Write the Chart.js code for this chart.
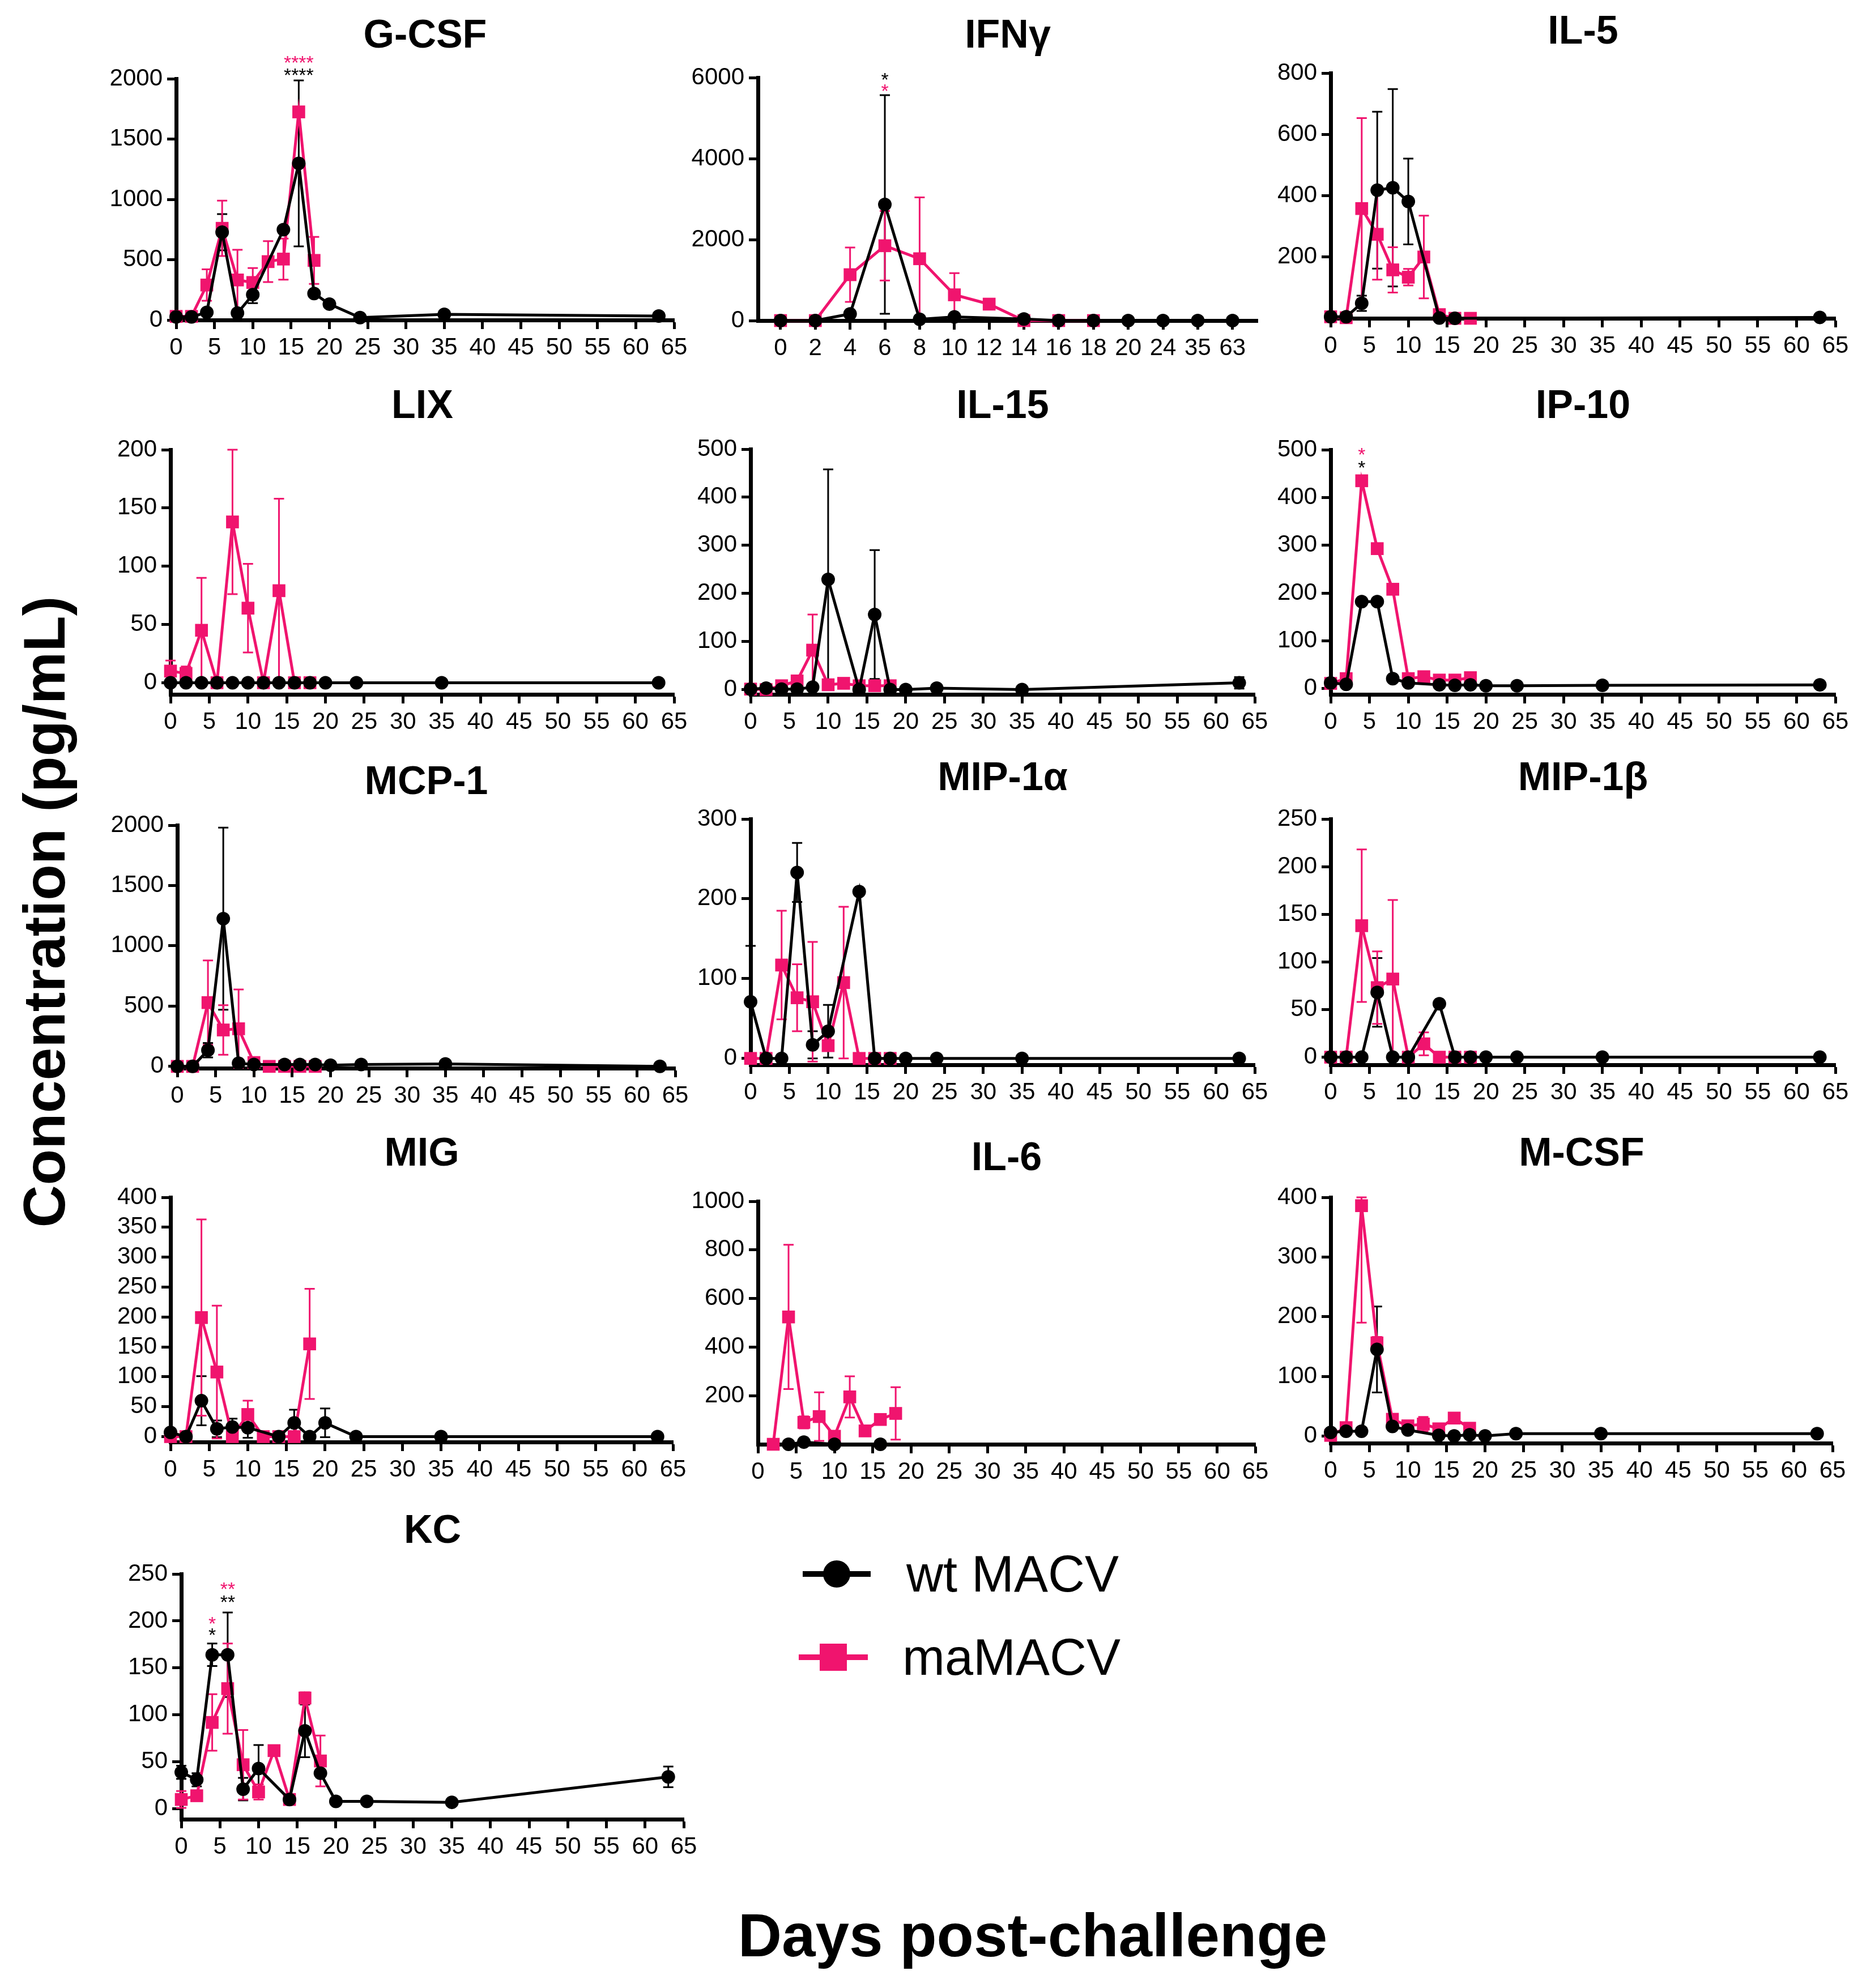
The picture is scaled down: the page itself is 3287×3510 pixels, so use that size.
<!DOCTYPE html>
<html>
<head>
<meta charset="utf-8">
<script src="https://cdn.jsdelivr.net/npm/chart.js@4.4.1/dist/chart.umd.min.js"></script>
<style>
  body { margin: 0; background: #fff; }
  #page { position: relative; width: 3287px; height: 3510px; background: #fff;
          font-family: 'Liberation Sans', Arial, sans-serif; color: #000; overflow: hidden; }
  #page canvas { position: absolute; }
  .axis-title { position: absolute; font-weight: bold; white-space: nowrap; }
  .leg-text { position: absolute; font-size: 90px; white-space: nowrap; transform: translateY(-50%); }
  .leg-line { position: absolute; height: 10px; }
</style>
</head>
<body>
<div id="page">
  <div class="axis-title" style="left:78px;top:1610px;font-size:104px;transform:translate(-50%,-50%) rotate(-90deg);">Concentration (pg/mL)</div>
  <div class="axis-title" style="left:1823px;top:3417px;font-size:107px;transform:translate(-50%,-50%);">Days post-challenge</div>

  <div class="leg-line" style="left:1417px;top:2774px;width:120px;background:#000;"></div>
  <div style="position:absolute;left:1453px;top:2755px;width:48px;height:48px;border-radius:50%;background:#000;"></div>
  <div class="leg-text" style="left:1600px;top:2779px;">wt MACV</div>

  <div class="leg-line" style="left:1410px;top:2921px;width:122px;background:#f0146e;"></div>
  <div style="position:absolute;left:1447px;top:2902px;width:48px;height:48px;background:#f0146e;"></div>
  <div class="leg-text" style="left:1593px;top:2926px;">maMACV</div>
</div>

<script>
const PINK = '#f0146e';
const FONT = "'Liberation Sans', Arial, sans-serif";

// sampling days (wt MACV runs to day 63, maMACV stops at day 18)
const days = [0, 2, 4, 6, 8, 10, 12, 14, 16, 18, 20, 24, 35, 63];
const ifnLabels = ['0', '2', '4', '6', '8', '10', '12', '14', '16', '18', '20', '24', '35', '63'];
const ifnIndex = [0, 1, 2, 3, 4, 5, 6, 7, 8, 9, 10, 11, 12, 13];

// G-CSF
const gcsfWt    = [26, 26, 63, 728, 57, 210, null, 749, 1298, 220, 132, 20, 47, 33];
const gcsfWtErr = [10, 10, 15, 150, 15, 70, 0, 0, 688, 0, 0, 0, 0, 0];
const gcsfMa    = [30, 30, 290, 760, 332, 311, 484, 505, 1725, 494];
const gcsfMaErr = [20, 20, 130, 230, 250, 120, 170, 170, 0, 195];
// IFNγ (category axis)
const ifnWt    = [0, 0, 164, 2867, 30, 91, null, 40, 0, 0, 0, 0, 0, 0];
const ifnWtErr = [0, 0, 0, 2700, 0, 0, 0, 0, 0, 0, 0, 0, 0, 0];
const ifnMa    = [0, 0, 1133, 1848, 1527, 636, 406, 0, 0, 0];
const ifnMaErr = [0, 0, 670, 860, 1515, 534, 60, 0, 0, 0];
// IL-5
const il5Wt    = [5, 5, 49, 418, 426, 381, null, 1, 0, null, null, null, null, 3];
const il5WtErr = [0, 0, 25, 256, 322, 140, 0, 0, 0, 0, 0, 0, 0, 0];
const il5Ma    = [5, 2, 358, 274, 158, 134, 200, 12, 0, 0];
const il5MaErr = [0, 0, 295, 148, 74, 27, 135, 0, 0, 0];
// LIX
const lixWt    = [0, 0, 0, 0, 0, 0, 0, 0, 0, 0, 0, 0, 0, 0];
const lixMa    = [10, 8, 45, 0, 138, 64, 0, 79, 0, 0];
const lixMaErr = [9, 6, 45, 0, 62, 38, 0, 79, 0, 0];
// IL-15
const il15Wt    = [1, 3, 1, 1, 5, 229, null, 0, 156, 0, 0, 3, 0, 14];
const il15WtErr = [0, 0, 0, 0, 0, 229, 0, 0, 134, 0, 0, 0, 0, 12];
const il15Ma    = [1, 0, 8, 18, 82, 10, 13, 8, 8, 8];
const il15MaErr = [0, 0, 0, 0, 74, 0, 0, 0, 0, 0];
// IP-10
const ip10Wt = [12, 9, 182, 182, 21, 12, null, 8, 7, 8, 6, 6, 7, 8];
const ip10Ma = [11, 21, 435, 293, 208, 21, 25, 18, 18, 23];
// MCP-1
const mcpWt    = [0, 0, 134, 1225, 26, 16, null, 16, 16, 16, 10, 16, 20, 0];
const mcpWtErr = [0, 0, 60, 755, 0, 0, 0, 0, 0, 0, 0, 0, 0, 0];
const mcpMa    = [0, 0, 529, 302, 312, 32, 0, 0, 0, 0];
const mcpMaErr = [0, 0, 350, 205, 326, 0, 0, 0, 0, 0];
// MIP-1α
const mip1aWt    = [71, 0, 0, 233, 17, 34, null, 209, 0, 0, 0, 0, 0, 0];
const mip1aWtErr = [70, 0, 0, 37, 17, 33, 0, 0, 0, 0, 0, 0, 0, 0];
const mip1aMa    = [0, 0, 117, 76, 71, 16, 95, 0, 0, 0];
const mip1aMaErr = [0, 0, 68, 42, 75, 0, 95, 0, 0, 0];
// MIP-1β
const mip1bWt    = [0, 0, 0, 68, 0, 0, null, 56, 0, 0, 0, 0, 0, 0];
const mip1bWtErr = [0, 0, 0, 36, 0, 0, 0, 0, 0, 0, 0, 0, 0, 0];
const mip1bMa    = [0, 0, 138, 73, 82, 0, 14, 0, 0, 0];
const mip1bMaErr = [0, 0, 80, 38, 83, 0, 12, 0, 0, 0];
// MIG
const migWt    = [7, 0, 60, 13, 16, 15, null, 0, 23, 0, 23, 0, 0, 0];
const migWtErr = [0, 0, 41, 14, 14, 17, 0, 0, 22, 0, 24, 0, 0, 0];
const migMa    = [0, 0, 199, 108, 0, 37, 0, 0, 0, 155];
const migMaErr = [0, 0, 164, 111, 0, 23, 0, 0, 0, 92];
// IL-6
const il6Wt    = [null, null, 0, 9, null, 0, null, null, 0];
const il6Ma    = [null, 0, 524, 90, 114, 33, 195, 55, 102, 127];
const il6MaErr = [0, 0, 297, 25, 100, 0, 85, 0, 15, 108];
// M-CSF
const mcsfWt    = [6, 8, 8, 145, 16, 10, null, 1, 0, 2, 0, 4, 4, 4];
const mcsfWtErr = [0, 0, 0, 72, 0, 0, 0, 0, 0, 0, 0, 0, 0, 0];
const mcsfMa    = [1, 14, 386, 156, 28, 17, 20, 12, 30, 13];
const mcsfMaErr = [0, 0, 196, 10, 6, 8, 12, 0, 6, 0];
// KC
const kcWt    = [39, 31, 164, 164, 21, 43, null, 10, 83, 38, 8, 8, 7, 34];
const kcWtErr = [7, 7, 12, 45, 12, 25, 0, 0, 28, 0, 0, 0, 0, 11];
const kcMa    = [10, 14, 92, 128, 47, 18, 62, 10, 118, 51];
const kcMaErr = [9, 0, 30, 48, 37, 8, 0, 0, 6, 27];

// significance marks (day, value, text, colour)
const gcsfStars = [[16, 2169, '****', PINK], [16, 2067, '****', '#000']];
const ifnStars  = [[3, 6060, '*', '#000'], [3, 5788, '*', PINK]];
const ip10Stars = [[4, 499, '*', PINK], [4, 472, '*', '#000']];
const kcStars   = [[4, 202, '*', PINK], [4, 190, '*', '#000'], [6, 239, '**', PINK], [6, 225, '**', '#000']];

const page = document.getElementById('page');
const PAD_L = 180, PAD_T = 170, PAD_R = 60, PAD_B = 100;

function pts(xs, ys) {
  return ys.map((v, i) => ({ x: xs[i], y: v }));
}

function makePanel(p) {
  const [L, R, T, B] = p.box;
  const w = R - L + PAD_L + PAD_R, h = B - T + PAD_T + PAD_B;
  const cv = document.createElement('canvas');
  cv.width = w; cv.height = h;
  cv.style.left = (L - PAD_L) + 'px'; cv.style.top = (T - PAD_T) + 'px';
  cv.style.width = w + 'px'; cv.style.height = h + 'px';
  page.appendChild(cv);

  const xs = p.cat ? ifnIndex : days;

  const errorBars = {
    id: 'errorBars',
    beforeDatasetsDraw(chart) {
      const ctx = chart.ctx, sx = chart.scales.x, sy = chart.scales.y;
      chart.data.datasets.forEach(ds => {
        if (!ds.err) return;
        ctx.save();
        ctx.strokeStyle = ds.borderColor;
        ctx.lineWidth = 3;
        ds.data.forEach((pt, i) => {
          const e = ds.err[i];
          if (pt.y == null || !e) return;
          const x = sx.getPixelForValue(pt.x);
          const hi = sy.getPixelForValue(Math.min(pt.y + e, sy.max));
          const lo = sy.getPixelForValue(Math.max(pt.y - e, sy.min));
          ctx.beginPath();
          ctx.moveTo(x, hi); ctx.lineTo(x, lo);
          ctx.moveTo(x - 9, hi); ctx.lineTo(x + 9, hi);
          ctx.moveTo(x - 9, lo); ctx.lineTo(x + 9, lo);
          ctx.stroke();
        });
        ctx.restore();
      });
    }
  };

  const labels = {
    id: 'labels',
    afterDraw(chart) {
      const ctx = chart.ctx, a = chart.chartArea, sx = chart.scales.x, sy = chart.scales.y;
      ctx.save();
      ctx.fillStyle = '#000';
      ctx.font = 'bold 70px ' + FONT;
      ctx.textAlign = 'center';
      ctx.textBaseline = 'middle';
      ctx.fillText(p.title, (a.left + a.right) / 2, a.top - (T - p.titleY));
      ctx.font = '34px ' + FONT;
      ctx.textBaseline = 'alphabetic';
      (p.stars || []).forEach(s => {
        ctx.fillStyle = s[3];
        ctx.fillText(s[2], sx.getPixelForValue(s[0]), sy.getPixelForValue(s[1]) + 0.57 * 34);
      });
      ctx.restore();
    }
  };

  const datasets = [
    {
      label: 'wt MACV', data: pts(xs, p.wt), err: p.wtErr,
      borderColor: '#000', backgroundColor: '#000', borderWidth: 5,
      pointStyle: 'circle', pointRadius: 12, pointBorderWidth: 0,
      spanGaps: true, clip: false, tension: 0
    },
    {
      label: 'maMACV', data: pts(xs, p.ma), err: p.maErr,
      borderColor: PINK, backgroundColor: PINK, borderWidth: 5,
      pointStyle: 'rect', pointRadius: 16, pointBorderWidth: 0,
      spanGaps: true, clip: false, tension: 0
    }
  ];

  const tickFont = { family: FONT, size: 42 };
  const xMax = p.cat ? 13 : 65, xStep = p.cat ? 1 : 5;

  new Chart(cv.getContext('2d'), {
    type: 'line',
    data: { datasets: datasets },
    options: {
      responsive: false, animation: false, devicePixelRatio: 1,
      layout: { padding: { left: 0, top: PAD_T, right: PAD_R, bottom: 0 } },
      plugins: { legend: { display: false }, tooltip: { enabled: false }, title: { display: false } },
      scales: {
        x: {
          type: 'linear',
          min: p.cat ? -0.65 : 0,
          max: p.cat ? 13.72 : 65,
          afterBuildTicks: s => {
            const t = [];
            for (let v = 0; v <= xMax; v += xStep) t.push({ value: v });
            s.ticks = t;
          },
          afterFit: s => { s.height = PAD_B; },
          ticks: {
            autoSkip: false, maxRotation: 0, minRotation: 0, padding: 8, color: '#000', font: tickFont,
            callback: v => p.cat ? ifnLabels[v] : String(v)
          },
          grid: { drawOnChartArea: false, drawTicks: true, tickLength: 16, tickWidth: 5, tickColor: '#000' },
          border: { display: true, width: 7, color: '#000' }
        },
        y: {
          type: 'linear',
          min: p.yMin, max: p.yMax,
          afterBuildTicks: s => {
            const t = [];
            for (let v = p.hideZero ? p.yStep : 0; v <= p.yMax; v += p.yStep) t.push({ value: v });
            s.ticks = t;
          },
          afterFit: s => { s.width = PAD_L; },
          ticks: { padding: 8, color: '#000', font: tickFont, callback: v => String(v) },
          grid: { drawOnChartArea: false, drawTicks: true, tickLength: 16, tickWidth: 5, tickColor: '#000' },
          border: { display: true, width: 7, color: '#000' }
        }
      }
    },
    plugins: [errorBars, labels]
  });
}

makePanel({ title: 'G-CSF', box: [311, 1190, 139, 565], titleY: 65, yMin: 0, yMax: 2000, yStep: 500,
  wt: gcsfWt, wtErr: gcsfWtErr, ma: gcsfMa, maErr: gcsfMaErr, stars: gcsfStars });
makePanel({ title: 'IFNγ', box: [1338, 2220, 137, 566], titleY: 65, yMin: 0, yMax: 6000, yStep: 2000, cat: true,
  wt: ifnWt, wtErr: ifnWtErr, ma: ifnMa, maErr: ifnMaErr, stars: ifnStars });
makePanel({ title: 'IL-5', box: [2349, 3240, 129, 562], titleY: 58, yMin: 0, yMax: 800, yStep: 200, hideZero: true,
  wt: il5Wt, wtErr: il5WtErr, ma: il5Ma, maErr: il5MaErr });

makePanel({ title: 'LIX', box: [301, 1190, 794, 1226], titleY: 719, yMin: -10, yMax: 200, yStep: 50,
  wt: lixWt, ma: lixMa, maErr: lixMaErr });
makePanel({ title: 'IL-15', box: [1325, 2215, 793, 1226], titleY: 719, yMin: -10, yMax: 500, yStep: 100,
  wt: il15Wt, wtErr: il15WtErr, ma: il15Ma, maErr: il15MaErr });
makePanel({ title: 'IP-10', box: [2349, 3240, 794, 1226], titleY: 719, yMin: -12, yMax: 500, yStep: 100,
  wt: ip10Wt, ma: ip10Ma, stars: ip10Stars });

makePanel({ title: 'MCP-1', box: [313, 1192, 1457, 1886], titleY: 1383, yMin: -15, yMax: 2000, yStep: 500,
  wt: mcpWt, wtErr: mcpWtErr, ma: mcpMa, maErr: mcpMaErr });
makePanel({ title: 'MIP-1α', box: [1325, 2215, 1446, 1880], titleY: 1376, yMin: -8, yMax: 300, yStep: 100,
  wt: mip1aWt, wtErr: mip1aWtErr, ma: mip1aMa, maErr: mip1aMaErr });
makePanel({ title: 'MIP-1β', box: [2349, 3240, 1446, 1880], titleY: 1376, yMin: -8, yMax: 250, yStep: 50,
  wt: mip1bWt, wtErr: mip1bWtErr, ma: mip1bMa, maErr: mip1bMaErr });

makePanel({ title: 'MIG', box: [301, 1188, 2114, 2546], titleY: 2039, yMin: -9, yMax: 400, yStep: 50,
  wt: migWt, wtErr: migWtErr, ma: migMa, maErr: migMaErr });
makePanel({ title: 'IL-6', box: [1338, 2216, 2121, 2550], titleY: 2047, yMin: 0, yMax: 1000, yStep: 200, hideZero: true,
  wt: il6Wt, ma: il6Ma, maErr: il6MaErr });
makePanel({ title: 'M-CSF', box: [2349, 3235, 2114, 2548], titleY: 2039, yMin: -12, yMax: 400, yStep: 100,
  wt: mcsfWt, wtErr: mcsfWtErr, ma: mcsfMa, maErr: mcsfMaErr });

makePanel({ title: 'KC', box: [320, 1207, 2779, 3212], titleY: 2705, yMin: -11, yMax: 250, yStep: 50,
  wt: kcWt, wtErr: kcWtErr, ma: kcMa, maErr: kcMaErr, stars: kcStars });
</script>
</body>
</html>
